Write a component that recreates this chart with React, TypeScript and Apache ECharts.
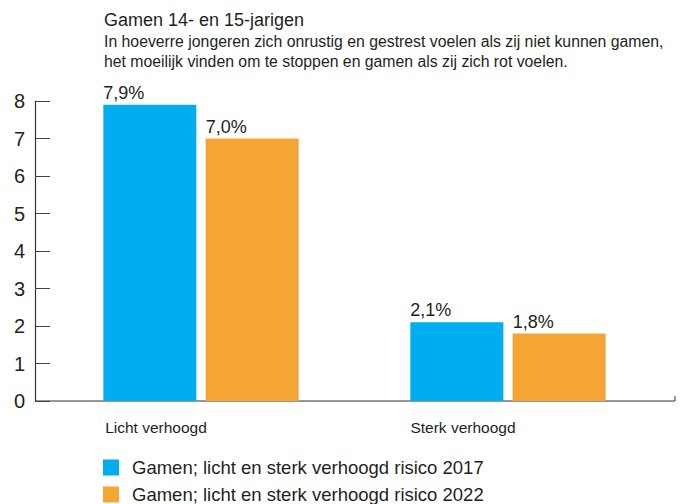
import React, { useEffect, useRef } from "react";
import * as echarts from "echarts";

const categories = ["Licht verhoogd", "Sterk verhoogd"];
const series2017 = [7.9, 2.1];
const series2022 = [7.0, 1.8];
const seriesNames = [
  "Gamen; licht en sterk verhoogd risico 2017",
  "Gamen; licht en sterk verhoogd risico 2022",
];
const yTicks = [0, 1, 2, 3, 4, 5, 6, 7, 8];
const titleText = "Gamen 14- en 15-jarigen";
const subtitleText =
  "In hoeverre jongeren zich onrustig en gestrest voelen als zij niet kunnen gamen,\nhet moeilijk vinden om te stoppen en gamen als zij zich rot voelen.";

const FONT = "'Liberation Sans', Arial, Helvetica, sans-serif";
const TXT = "#231f20";

export default function App() {
  const ref = useRef<HTMLDivElement>(null);
  useEffect(() => {
    if (!ref.current) return;
    const chart = echarts.init(ref.current, undefined, { renderer: "svg" });
    const fmt = (p: any) => p.value.toFixed(1).replace(".", ",") + "%";
    const valueLabel = {
      show: true,
      position: [0, -3],
      align: "left",
      verticalAlign: "bottom",
      formatter: fmt,
      fontSize: 18,
      fontFamily: FONT,
      color: TXT,
    };
    const legendBase = {
      orient: "horizontal",
      left: 98,
      itemWidth: 16,
      itemHeight: 16,
      icon: "rect",
      textStyle: {
        fontSize: 18.5,
        color: TXT,
        fontFamily: FONT,
        padding: [0, 0, 0, 8],
      },
    };
    chart.setOption({
      animation: false,
      textStyle: { fontFamily: FONT },
      title: {
        text: titleText,
        subtext: subtitleText,
        left: 99,
        top: 6,
        itemGap: 2,
        textStyle: { fontSize: 18, fontWeight: "normal", color: TXT, fontFamily: FONT },
        subtextStyle: { fontSize: 15.8, color: TXT, lineHeight: 20, fontFamily: FONT },
      },
      legend: [
        { ...legendBase, top: 453, data: [seriesNames[0]] },
        { ...legendBase, top: 480, data: [seriesNames[1]] },
      ],
      grid: { left: 47.5, right: 25.5, top: 101, height: 300, containLabel: false },
      xAxis: {
        type: "category",
        data: categories,
        axisLine: { show: false },
        axisTick: { show: false },
        axisLabel: {
          fontSize: 15.5,
          color: TXT,
          fontFamily: FONT,
          margin: 18,
          align: "center",
          padding: [0, 90, 0, 0],
        },
      },
      yAxis: {
        type: "value",
        min: yTicks[0],
        max: yTicks[yTicks.length - 1],
        interval: 1,
        offset: 12.5,
        splitLine: { show: false },
        axisLine: { show: true, lineStyle: { color: "#333", width: 1.2 } },
        axisTick: { show: true, inside: true, length: 15, lineStyle: { color: "#444" } },
        axisLabel: { fontSize: 20, color: TXT, fontFamily: FONT, margin: 10 },
      },
      graphic: [
        {
          type: "line",
          shape: { x1: 35, y1: 401, x2: 675, y2: 401 },
          style: { stroke: "#333", lineWidth: 1.2 },
        },
        {
          type: "line",
          shape: { x1: 675, y1: 396, x2: 675, y2: 401 },
          style: { stroke: "#333", lineWidth: 1 },
        },
      ],
      series: [
        {
          name: seriesNames[0],
          type: "bar",
          data: series2017,
          barWidth: 93,
          barGap: "10%",
          itemStyle: { color: "#00aeef" },
          label: valueLabel,
        },
        {
          name: seriesNames[1],
          type: "bar",
          data: series2022,
          barWidth: 93,
          itemStyle: { color: "#f5a533" },
          label: valueLabel,
        },
      ],
    });
    return () => chart.dispose();
  }, []);
  return <div ref={ref} style={{ width: 687, height: 504, position: "absolute", left: 0, top: 0 }} />;
}
